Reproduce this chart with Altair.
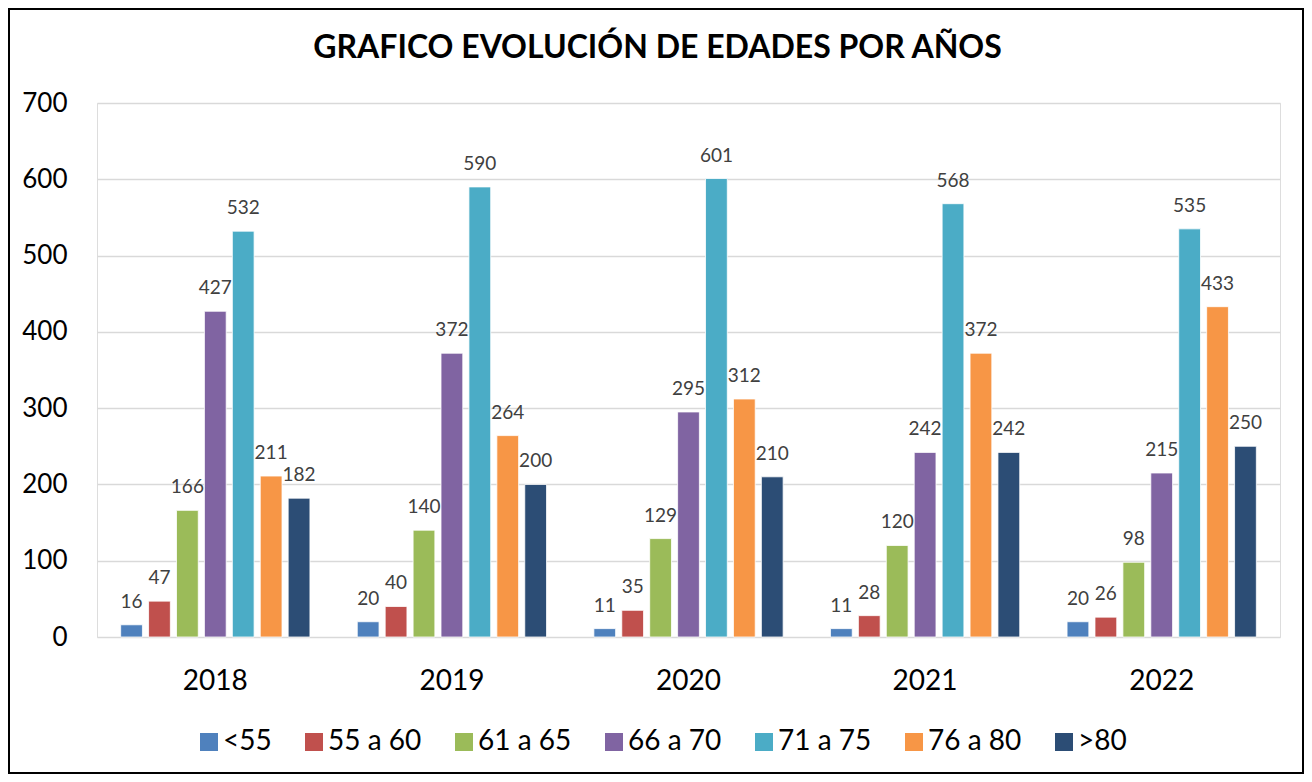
import altair as alt
import pandas as pd

years = ["2018", "2019", "2020", "2021", "2022"]
groups = ["<55", "55 a 60", "61 a 65", "66 a 70", "71 a 75", "76 a 80", ">80"]
values = {
    "<55":     [16, 20, 11, 11, 20],
    "55 a 60": [47, 40, 35, 28, 26],
    "61 a 65": [166, 140, 129, 120, 98],
    "66 a 70": [427, 372, 295, 242, 215],
    "71 a 75": [532, 590, 601, 568, 535],
    "76 a 80": [211, 264, 312, 372, 433],
    ">80":     [182, 200, 210, 242, 250],
}
colors = ["#4F81BD", "#C0504D", "#9BBB59", "#8064A2", "#4BACC6", "#F79646", "#2C4D75"]

rows = []
for g in groups:
    for y, v in zip(years, values[g]):
        rows.append({"Año": y, "Edad": g, "Valor": v})
df = pd.DataFrame(rows)

FONT = "Lato"
W, H = 1183, 534

x = alt.X("Año:N", sort=years, title=None,
          scale=alt.Scale(paddingInner=0.2, paddingOuter=0.1),
          axis=alt.Axis(labelAngle=0, labelFontSize=28, labelColor="#000000",
                        labelPadding=30, ticks=False, domain=False, labelFont=FONT))
xo = alt.XOffset("Edad:N", sort=groups, scale=alt.Scale(paddingInner=0.22, paddingOuter=0))
y = alt.Y("Valor:Q", title=None,
          scale=alt.Scale(domain=[0, 700], nice=False),
          axis=alt.Axis(values=[0, 100, 200, 300, 400, 500, 600, 700], labelFontSize=26,
                        labelColor="#000000", labelPadding=30, ticks=False, domain=False,
                        gridColor="#D9D9D9", gridWidth=1.5, labelFont=FONT))

bars = alt.Chart(df).mark_bar(stroke="white", strokeWidth=0.8).encode(
    x=x, xOffset=xo, y=y,
    color=alt.Color("Edad:N", sort=groups,
                    scale=alt.Scale(domain=groups, range=colors),
                    legend=alt.Legend(title=None, orient="none", direction="horizontal",
                                      legendX=98, legendY=625, symbolType="square",
                                      symbolSize=324, symbolStrokeWidth=0,
                                      labelFontSize=28, labelFont=FONT, labelColor="#000000",
                                      labelOffset=0, columnPadding=28, labelLimit=200)),
)

labels = alt.Chart(df).mark_text(dy=-17, baseline="alphabetic", align="center",
                                 fontSize=19, color="#404040", font=FONT).encode(
    x=x, xOffset=xo, y=y, text=alt.Text("Valor:Q"),
)

frame = alt.Chart(pd.DataFrame({"f": [0]})).mark_rect(
    fill=None, stroke="#000000", strokeWidth=2
).encode(
    x=alt.value(-88), x2=alt.value(W + 23),
    y=alt.value(-94), y2=alt.value(H + 136),
)

chart = alt.layer(bars, labels, frame).properties(
    width=W, height=H,
    autosize=alt.AutoSizeParams(type="none"),
    padding={"left": 89, "top": 95, "right": 24, "bottom": 137},
    title=alt.TitleParams("GRAFICO EVOLUCIÓN DE EDADES POR AÑOS", fontSize=32,
                          font=FONT, fontWeight="bold", color="#000000",
                          anchor="middle", offset=0, dy=57, dx=-31),
).configure_view(strokeWidth=0).configure(background="white")

chart.save("out.html", embed_options={"renderer": "svg", "actions": False})
